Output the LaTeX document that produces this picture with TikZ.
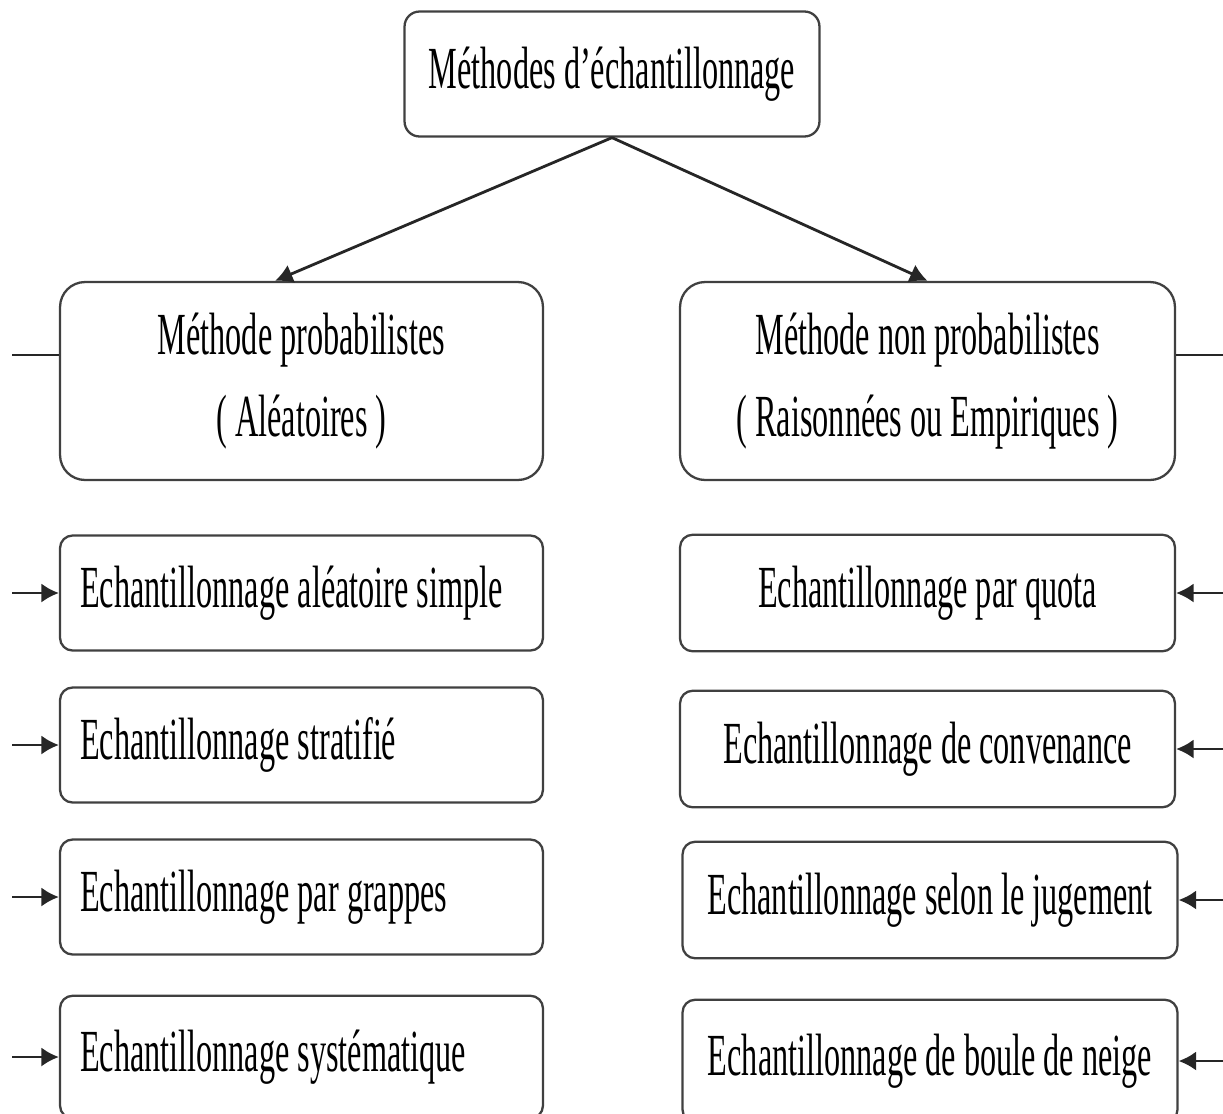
\documentclass[tikz,border=0pt]{standalone}
\usepackage{fontspec}
\setmainfont{Liberation Serif}[FakeStretch=0.54]
\usetikzlibrary{arrows.meta}
\tikzset{
        every node/.style={font=\fontsize{34}{47}\selectfont, text=black},
        rootbox/.style={draw=black!75, line width=1.3pt, rounded corners=0.3cm, minimum width=8.3cm, minimum height=2.5cm},
        groupbox/.style={draw=black!75, line width=1.3pt, rounded corners=0.5cm, minimum width=9.66cm, minimum height=3.96cm, align=center},
        leftbox/.style={draw=black!75, line width=1.3pt, rounded corners=0.25cm, inner xsep=0.4cm, minimum width=9.66cm, minimum height=2.3cm},
        rightbox/.style={draw=black!75, line width=1.3pt, rounded corners=0.25cm, minimum width=9.9cm, minimum height=2.33cm},
        lastrow/.style={minimum height=2.45cm},
        link/.style={draw=black!85, line width=1.6pt},
        arr/.style={link, -{Latex[length=10pt, width=11pt]}}
          }
\begin{document}
\begin{tikzpicture}[x=0.02cm, y=-0.02cm]
        \useasboundingbox (0,0) rectangle (1223,1113);
        \clip (0,0) rectangle (1223,1113);
        \node[rootbox] (root) at (612,74) {Méthodes d’échantillonnage};
        \node[groupbox] (prob) at (301.5,381) {Méthode probabilistes\\( Aléatoires )};
        \node[groupbox, minimum width=9.9cm] (nonprob) at (927.5,381) {Méthode non probabilistes\\( Raisonnées ou Empiriques )};
        \foreach \i/\y/\txt in {1/593/Echantillonnage aléatoire simple, 2/745/Echantillonnage stratifié, 3/897/Echantillonnage par grappes}
          \node[leftbox] (p\i) at (301.5,\y) {\makebox[8.86cm][l]{\txt}};
        \node[leftbox, lastrow] (p4) at (301.5,1057) {\makebox[8.86cm][l]{Echantillonnage systématique}};
        \foreach \i/\x/\y/\txt in {1/927.5/593/Echantillonnage par quota, 2/927.5/749/Echantillonnage de convenance, 3/930/900/Echantillonnage selon le jugement}
          \node[rightbox] (n\i) at (\x,\y) {\txt};
        \node[rightbox, lastrow] (n4) at (930,1061) {Echantillonnage de boule de neige};
        \coordinate (lbus) at (12,355);
        \coordinate (rbus) at (1223,355);
        \draw[arr] (root.south) -- ([xshift=-0.53cm]prob.north);
        \draw[arr] (root.south) -- (nonprob.north);
        \draw[link] (lbus) -- (lbus -| prob.west);
        \draw[link] (rbus) -- (rbus -| nonprob.east);
        \foreach \i in {1,...,4}
          \draw[arr] (p\i.west -| lbus) -- (p\i.west);
        \foreach \i in {1,...,4}
          \draw[arr] (n\i.east -| rbus) -- (n\i.east);
\end{tikzpicture}
\end{document}
